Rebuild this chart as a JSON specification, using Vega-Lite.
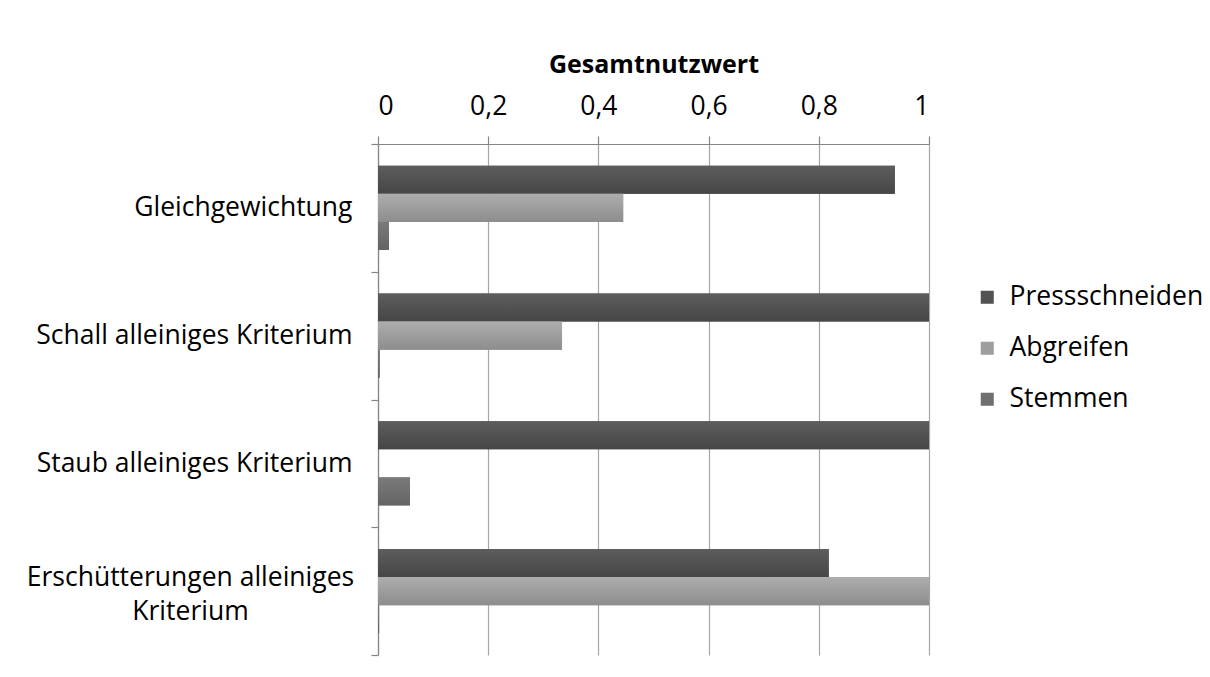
{
  "$schema": "https://vega.github.io/schema/vega-lite/v6.json",
  "width": 551,
  "height": 511,
  "autosize": {"type": "none"},
  "padding": {"left": 378, "top": 144, "right": 281, "bottom": 22},
  "background": "white",
  "data": {
    "values": [
      {"kategorie": "Gleichgewichtung", "verfahren": "Pressschneiden", "wert": 0.938},
      {"kategorie": "Gleichgewichtung", "verfahren": "Abgreifen", "wert": 0.445},
      {"kategorie": "Gleichgewichtung", "verfahren": "Stemmen", "wert": 0.02},
      {"kategorie": "Schall alleiniges Kriterium", "verfahren": "Pressschneiden", "wert": 1.0},
      {"kategorie": "Schall alleiniges Kriterium", "verfahren": "Abgreifen", "wert": 0.334},
      {"kategorie": "Schall alleiniges Kriterium", "verfahren": "Stemmen", "wert": 0.003},
      {"kategorie": "Staub alleiniges Kriterium", "verfahren": "Pressschneiden", "wert": 1.0},
      {"kategorie": "Staub alleiniges Kriterium", "verfahren": "Abgreifen", "wert": 0.0},
      {"kategorie": "Staub alleiniges Kriterium", "verfahren": "Stemmen", "wert": 0.058},
      {"kategorie": "Erschütterungen alleiniges Kriterium", "verfahren": "Pressschneiden", "wert": 0.818},
      {"kategorie": "Erschütterungen alleiniges Kriterium", "verfahren": "Abgreifen", "wert": 1.0},
      {"kategorie": "Erschütterungen alleiniges Kriterium", "verfahren": "Stemmen", "wert": 0.002}
    ]
  },
  "encoding": {
    "y": {
      "field": "kategorie",
      "type": "nominal",
      "sort": null,
      "scale": {"paddingInner": 0, "paddingOuter": 0},
      "axis": {
        "title": null,
        "tickBand": "extent",
        "ticks": true,
        "tickSize": 7,
        "tickColor": "#868686",
        "domainColor": "#868686",
        "labelFont": "Open Sans",
        "labelFontSize": 26.5,
        "labelColor": "#000000",
        "labelAlign": {"condition": {"test": "datum.value == 'Erschütterungen alleiniges Kriterium'", "value": "center"}, "value": "right"},
        "labelPadding": {"condition": {"test": "datum.value == 'Erschütterungen alleiniges Kriterium'", "value": 181}, "value": 19},
        "labelOffset": {"condition": {"test": "datum.value == 'Erschütterungen alleiniges Kriterium'", "value": -14}, "value": 0},
        "labelLimit": 500,
        "labelLineHeight": 34,
        "labelExpr": "datum.label == 'Erschütterungen alleiniges Kriterium' ? ['Erschütterungen alleiniges', 'Kriterium'] : datum.label"
      }
    },
    "x": {
      "field": "wert",
      "type": "quantitative",
      "scale": {"domain": [0, 1], "nice": false},
      "axis": {
        "orient": "top",
        "title": "Gesamtnutzwert",
        "titleFont": "Open Sans",
        "titleFontSize": 25,
        "titleFontWeight": "bold",
        "titleColor": "#000000",
        "titlePadding": 16,
        "values": [0, 0.2, 0.4, 0.6, 0.8, 1],
        "labelExpr": "replace(toString(datum.value), '.', ',')",
        "labelFont": "Open Sans",
        "labelFontSize": 26.5,
        "labelColor": "#000000",
        "labelPadding": 16,
        "tickSize": 8,
        "tickColor": "#868686",
        "domainColor": "#868686",
        "grid": true,
        "gridColor": "#a6a6a6",
        "gridWidth": 1.2
      }
    },
    "yOffset": {
      "field": "verfahren",
      "type": "nominal",
      "sort": ["Pressschneiden", "Abgreifen", "Stemmen"],
      "scale": {"paddingInner": 0, "paddingOuter": 0.78}
    }
  },
  "layer": [
    {
      "mark": {"type": "bar", "orient": "horizontal"},
      "encoding": {
        "color": {
          "field": "verfahren",
          "type": "nominal",
          "sort": ["Pressschneiden", "Abgreifen", "Stemmen"],
          "scale": {
            "domain": ["Pressschneiden", "Abgreifen", "Stemmen"],
            "range": ["#525252", "#9e9e9e", "#6f6f6f"]
          },
          "legend": {
            "title": null,
            "orient": "none",
            "legendX": 596,
            "legendY": 140,
            "symbolType": "square",
            "symbolSize": 170,
            "symbolStrokeWidth": 0,
            "labelFont": "Open Sans",
            "labelFontSize": 26.5,
            "labelColor": "#000000",
            "labelOffset": 9,
            "rowPadding": 24,
            "labelLimit": 300
          }
        }
      }
    },
    {
      "mark": {"type": "bar", "orient": "horizontal"},
      "encoding": {
        "fill": {
          "condition": [
            {"test": "datum.verfahren == 'Pressschneiden'", "value": {"gradient": "linear", "x1": 0, "y1": 0, "x2": 0, "y2": 1, "stops": [{"offset": 0, "color": "#5d5d5d"}, {"offset": 1, "color": "#464646"}]}},
            {"test": "datum.verfahren == 'Abgreifen'", "value": {"gradient": "linear", "x1": 0, "y1": 0, "x2": 0, "y2": 1, "stops": [{"offset": 0, "color": "#adadad"}, {"offset": 1, "color": "#8d8d8d"}]}}
          ],
          "value": {"gradient": "linear", "x1": 0, "y1": 0, "x2": 0, "y2": 1, "stops": [{"offset": 0, "color": "#7a7a7a"}, {"offset": 1, "color": "#646464"}]}
        }
      }
    }
  ],
  "config": {
    "view": {"stroke": null},
    "axis": {"domainWidth": 1.2, "tickWidth": 1.2}
  }
}
